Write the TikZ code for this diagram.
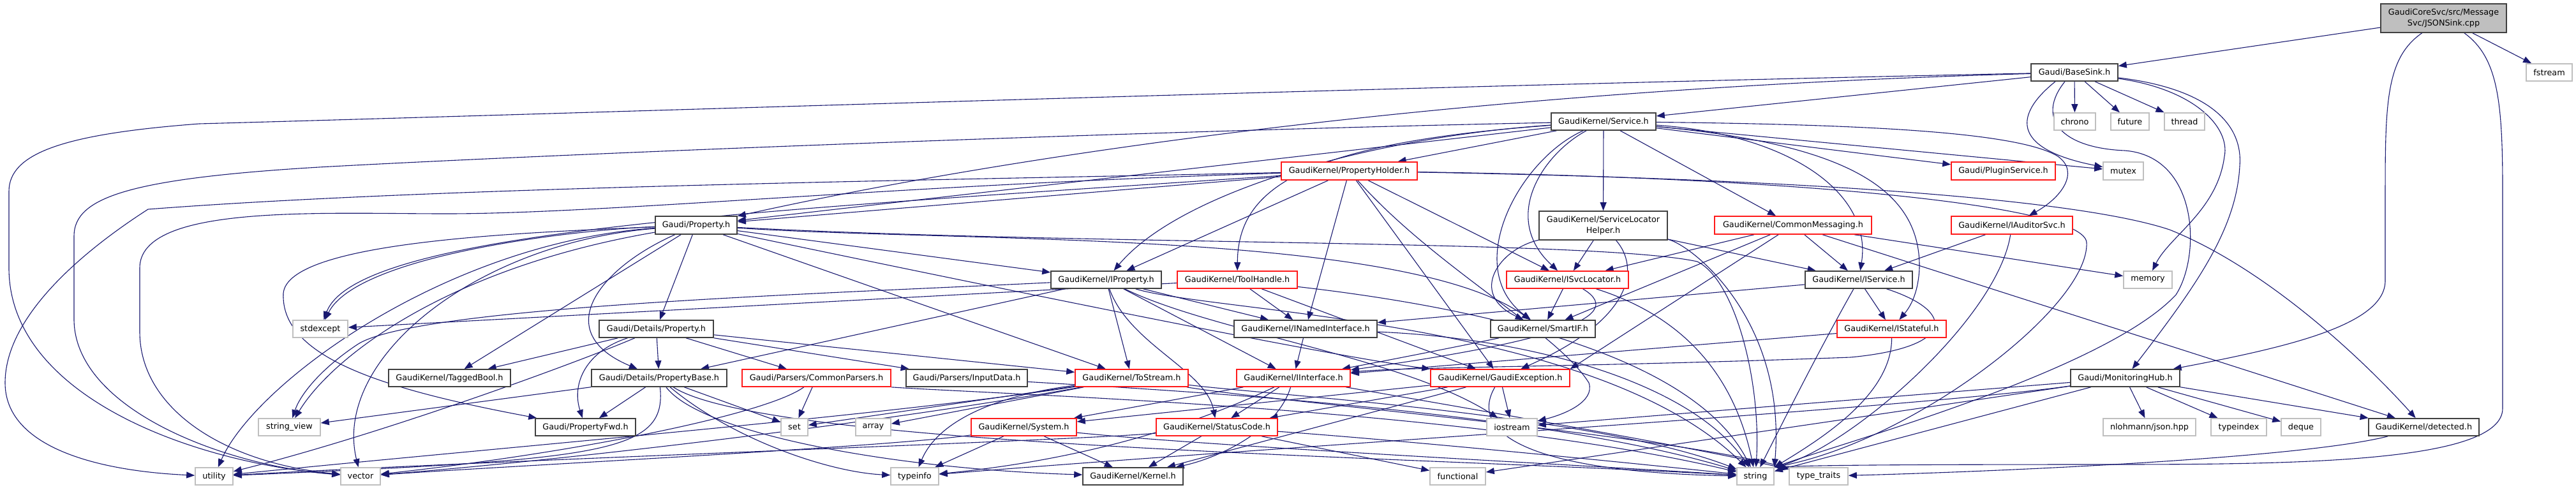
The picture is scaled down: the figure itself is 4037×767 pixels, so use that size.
\documentclass[tikz,border=0pt]{standalone}
\usepackage{fontspec}
\setmainfont{DejaVu Sans}
\usetikzlibrary{arrows.meta,calc}
\pgfdeclarelayer{bg}
\pgfsetlayers{bg,main}
\definecolor{edgec}{HTML}{191970}
\definecolor{dkb}{HTML}{404040}
\definecolor{rdb}{HTML}{FF1A1A}
\definecolor{ltb}{HTML}{BFBFBF}
\definecolor{rootf}{HTML}{BFBFBF}
\newcommand\gn[6]{\node[#1,minimum width={#4*0.5pt},minimum height={#5*0.5pt}] (#2) at (#3) {#6};}
\begin{document}
\begin{tikzpicture}[x=0.5pt,y=-0.5pt,
  nb/.style={draw=dkb,line width=0.8pt,fill=white,rectangle,inner sep=0pt,font={\fontsize{6.4pt}{8.3pt}\selectfont},align=center},
  nr/.style={nb,draw=rdb},
  ng/.style={nb,draw=ltb},
  nroot/.style={nb,draw=dkb,fill=rootf},
  e/.style={draw=edgec,line width=0.55pt,-{Triangle[length=6.5pt,width=5pt]}}]
\useasboundingbox (0,0) rectangle (4037,767);
% nodes
\gn{nroot}{json}{3829.5,28.5}{197}{45}{GaudiCoreSvc/src/Message\\Svc/JSONSink.cpp}
\gn{nb}{basesink}{3251,113.5}{136}{27}{Gaudi/BaseSink.h}
\gn{ng}{fstream}{3995,113.5}{72}{27}{fstream}
\gn{nb}{service}{2513,190.5}{164}{27}{GaudiKernel/Service.h}
\gn{ng}{chrono}{3251.5,190.5}{65}{27}{chrono}
\gn{ng}{future}{3338,190.5}{60}{27}{future}
\gn{ng}{thread}{3423.5,190.5}{63}{27}{thread}
\gn{nr}{propholder}{2114.5,268}{213}{28}{GaudiKernel/PropertyHolder.h}
\gn{nr}{pluginsvc}{3139.5,268}{163}{28}{Gaudi/PluginService.h}
\gn{ng}{mutex}{3327.5,268}{63}{28}{mutex}
\gn{nb}{property}{1091,353}{128}{28}{Gaudi/Property.h}
\gn{nb}{slh}{2512.5,353.5}{201}{45}{GaudiKernel/ServiceLocator\\Helper.h}
\gn{nr}{commsg}{2810,353}{246}{28}{GaudiKernel/CommonMessaging.h}
\gn{nr}{iauditor}{3153,353}{190}{28}{GaudiKernel/IAuditorSvc.h}
\gn{nb}{iproperty}{1733.5,438.5}{173}{27}{GaudiKernel/IProperty.h}
\gn{nr}{toolhandle}{1939,438.5}{188}{27}{GaudiKernel/ToolHandle.h}
\gn{nr}{isvcloc}{2456.5,438.5}{191}{27}{GaudiKernel/ISvcLocator.h}
\gn{nb}{iservice}{2913,438.5}{168}{27}{GaudiKernel/IService.h}
\gn{ng}{memory}{3366,438.5}{76}{27}{memory}
\gn{ng}{stdexcept}{502,515.5}{86}{27}{stdexcept}
\gn{nb}{detprop}{1028.5,515.5}{179}{27}{Gaudi/Details/Property.h}
\gn{nb}{inamed}{2046,515.5}{224}{27}{GaudiKernel/INamedInterface.h}
\gn{nb}{smartif}{2418,515.5}{164}{27}{GaudiKernel/SmartIF.h}
\gn{nr}{istateful}{2964.5,515.5}{171}{27}{GaudiKernel/IStateful.h}
\gn{nb}{taggedbool}{704.5,592.5}{191}{27}{GaudiKernel/TaggedBool.h}
\gn{nb}{propbase}{1033,592.5}{212}{27}{Gaudi/Details/PropertyBase.h}
\gn{nr}{commonparsers}{1279.5,592.5}{233}{27}{Gaudi/Parsers/CommonParsers.h}
\gn{nb}{inputdata}{1515,592.5}{190}{27}{Gaudi/Parsers/InputData.h}
\gn{nr}{tostream}{1773.5,592.5}{177}{27}{GaudiKernel/ToStream.h}
\gn{nr}{iinterface}{2027,592.5}{178}{27}{GaudiKernel/IInterface.h}
\gn{nr}{gaudiexc}{2351,592.5}{218}{27}{GaudiKernel/GaudiException.h}
\gn{nb}{monhub}{3330.5,592.5}{171}{27}{Gaudi/MonitoringHub.h}
\gn{ng}{stringview}{453.5,669.5}{97}{27}{string\_view}
\gn{nb}{propfwd}{917.5,669.5}{157}{27}{Gaudi/PropertyFwd.h}
\gn{ng}{set}{1245,669.5}{42}{27}{set}
\gn{ng}{array}{1368.5,669.5}{55}{27}{array}
\gn{nr}{system}{1604.5,669.5}{165}{27}{GaudiKernel/System.h}
\gn{nr}{statuscode}{1907,669.5}{190}{27}{GaudiKernel/StatusCode.h}
\gn{ng}{iostream}{2369.5,669.5}{79}{27}{iostream}
\gn{ng}{nlohmann}{3368.5,669.5}{145}{27}{nlohmann/json.hpp}
\gn{ng}{typeindex}{3508.5,669.5}{87}{27}{typeindex}
\gn{ng}{deque}{3606,669.5}{62}{27}{deque}
\gn{nb}{detected}{3798.5,669.5}{173}{27}{GaudiKernel/detected.h}
\gn{ng}{utility}{335.5,746.5}{59}{27}{utility}
\gn{ng}{vector}{565,746.5}{62}{27}{vector}
\gn{ng}{typeinfo}{1433.5,746.5}{75}{27}{typeinfo}
\gn{nb}{kernel}{1775.5,746.5}{157}{27}{GaudiKernel/Kernel.h}
\gn{ng}{functional}{2284.5,746.5}{87}{27}{functional}
\gn{ng}{string}{2751,746.5}{58}{27}{string}
\gn{ng}{typetraits}{2850,746.5}{92}{27}{type\_traits}
% edges
\begin{pgfonlayer}{bg}
% JSONSink
\draw[e] (json) -- (basesink);
\draw[e] (json) -- (fstream);
\draw[e] (json) .. controls (3740,90) and (3738,160) .. (3738,300) -- (3738,440) .. controls (3738,510) and (3580,545) .. (monhub);
\draw[e] (json) .. controls (3915,90) and (3922,160) .. (3922,300) -- (3922,640) .. controls (3922,725) and (3600,728) .. (3300,728) .. controls (3000,728) and (2850,729) .. (string.north east);
% BaseSink
\draw[e] (basesink) -- (service);
\draw[e] (basesink) .. controls (2300,140) and (1600,240) .. (property);
\draw[e] (basesink) .. controls (2200,135) and (900,178) .. (312,194) .. controls (100,210) and (14,240) .. (14,300) -- (14,420) .. controls (14,620) and (300,725) .. (vector);
\draw[e] (basesink) -- (chrono);
\draw[e] (basesink) -- (future);
\draw[e] (basesink) -- (thread);
\draw[e] ($(basesink.south)+(-30,0)$) .. controls (3150,185) and (3160,235) .. (mutex);
\draw[e] (basesink) .. controls (3440,140) and (3495,200) .. (3486,245) .. controls (3475,330) and (3400,370) .. (memory);
\draw[e] (basesink) .. controls (3470,140) and (3515,200) .. (3510,260) .. controls (3505,360) and (3440,450) .. (monhub);
\draw[e] ($(basesink.south)+(-15,0)$) .. controls (3190,185) and (3230,232) .. (3330,236) .. controls (3445,245) and (3450,400) .. (3410,462) .. controls (3300,580) and (2900,690) .. (string.north east);
% Service
\draw[e] (service) -- (property);
\draw[e] (service) .. controls (1800,205) and (900,240) .. (500,262) .. controls (200,280) and (116,310) .. (116,370) -- (116,500) .. controls (116,640) and (350,730) .. (vector);
\draw[e] (service) -- (propholder);
\draw[e] (service) -- (slh);
\draw[e] (service) -- (commsg);
\draw[e] (service) .. controls (2900,195) and (3160,205) .. (3225,245) .. controls (3260,270) and (3230,310) .. (iauditor);
\draw[e] (service) -- (pluginsvc);
\draw[e] (service) -- (mutex);
\draw[e] (service) .. controls (2150,215) and (1850,300) .. (iproperty);
\draw[e] (service) .. controls (2030,225) and (1940,300) .. (toolhandle);
\draw[e] (service) .. controls (2420,240) and (2350,340) .. (isvcloc);
\draw[e] (service) .. controls (2380,250) and (2290,420) .. (smartif);
\draw[e] (service) .. controls (2800,210) and (2935,300) .. (iservice);
\draw[e] (service) .. controls (2880,225) and (3010,290) .. (3008,420) .. controls (3006,465) and (2990,485) .. (istateful);
% PropertyHolder
\draw[e] (propholder) -- (property);
\draw[e] (propholder) .. controls (1500,282) and (700,292) .. (232,328) .. controls (120,400) and (8,500) .. (8,600) .. controls (8,700) and (150,738) .. (utility);
\draw[e] (propholder) .. controls (1400,290) and (950,335) .. (700,335) .. controls (500,335) and (219,320) .. (219,420) -- (219,520) .. controls (219,640) and (350,725) .. (vector);
\draw[e] (propholder) -- (iproperty);
\draw[e] (propholder) -- (inamed);
\draw[e] (propholder) -- (isvcloc);
\draw[e] (propholder) -- (gaudiexc);
\draw[e] (propholder) .. controls (2250,420) and (2440,520) .. (2490,600) .. controls (2500,630) and (2450,650) .. (iostream);
\draw[e] (propholder) .. controls (2800,280) and (3250,310) .. (3400,360) .. controls (3550,420) and (3700,560) .. (detected);
\draw[e] (propholder) .. controls (2800,278) and (3265,320) .. (3270,380) .. controls (3275,480) and (3000,690) .. (string.north east);
\draw[e] (propholder) .. controls (1200,330) and (560,360) .. (stdexcept);
% ServiceLocatorHelper
\draw[e] (slh) -- (isvcloc);
\draw[e] (slh) .. controls (2350,390) and (2300,460) .. (smartif);
\draw[e] (slh) -- (iservice);
\draw[e] (slh) .. controls (2570,420) and (2560,500) .. (gaudiexc);
\draw[e] (slh) .. controls (2650,383) and (2800,500) .. (string.north east);
% CommonMessaging
\draw[e] (commsg) -- (isvcloc);
\draw[e] (commsg) -- (smartif);
\draw[e] (commsg) -- (iservice);
\draw[e] (commsg) -- (gaudiexc.north east);
\draw[e] (commsg) -- (memory);
\draw[e] (commsg) -- (detected);
% IAuditorSvc
\draw[e] (iauditor) -- (iservice);
\draw[e] (iauditor) .. controls (3130,500) and (2900,700) .. (string.north east);
% Property.h
\draw[e] (property) -- (detprop);
\draw[e] (property) .. controls (940,420) and (860,520) .. (propbase);
\draw[e] (property) -- (taggedbool);
\draw[e] (property) -- (iproperty);
\draw[e] (property) -- (tostream);
\draw[e] (property) .. controls (1500,380) and (2200,360) .. (smartif);
\draw[e] (property) .. controls (1700,480) and (2100,560) .. (gaudiexc);
\draw[e] (property) .. controls (1700,385) and (2500,375) .. (2660,410) .. controls (2720,440) and (2760,600) .. (string);
\draw[e] (property) .. controls (900,360) and (560,400) .. (stdexcept);
\draw[e] (property) .. controls (700,420) and (520,560) .. (stringview);
\draw[e] (property) .. controls (700,380) and (400,600) .. (utility);
\draw[e] (property) .. controls (750,380) and (520,560) .. (vector);
\draw[e] (property) .. controls (800,365) and (450,380) .. (444,460) .. controls (440,560) and (600,610) .. (propfwd);
% IProperty
\draw[e] (iproperty) .. controls (1300,460) and (650,480) .. (560,540) .. controls (500,580) and (470,620) .. (stringview);
\draw[e] (iproperty) -- (propbase);
\draw[e] (iproperty) -- (tostream);
\draw[e] (iproperty) .. controls (1770,540) and (1890,580) .. (statuscode);
\draw[e] (iproperty) -- (iinterface);
\draw[e] (iproperty) -- (inamed);
\draw[e] (iproperty) .. controls (1900,490) and (2500,500) .. (string);
\draw[e] (iproperty) .. controls (1900,520) and (2200,560) .. (iostream);
% ToolHandle
\draw[e] (toolhandle) -- (inamed);
\draw[e] (toolhandle) -- (stdexcept);
\draw[e] (toolhandle) -- (gaudiexc);
\draw[e] (toolhandle) .. controls (2300,480) and (2650,550) .. (string);
% ISvcLocator, IService, IStateful, INamedInterface, SmartIF
\draw[e] (isvcloc) -- (smartif);
\draw[e] (isvcloc) .. controls (2560,500) and (2400,540) .. (iinterface);
\draw[e] (isvcloc) .. controls (2650,500) and (2720,600) .. (string);
\draw[e] (iservice) -- (inamed);
\draw[e] (iservice) -- (istateful);
\draw[e] (iservice) .. controls (3070,490) and (3060,545) .. (2900,560) .. controls (2500,575) and (2200,575) .. (iinterface);
\draw[e] (iservice) .. controls (2850,550) and (2800,650) .. (string);
\draw[e] (istateful) -- (iinterface);
\draw[e] (istateful) .. controls (2965,620) and (2850,690) .. (string.north east);
\draw[e] (inamed) -- (iinterface);
\draw[e] (inamed) .. controls (2400,530) and (2650,600) .. (string);
\draw[e] (smartif) .. controls (2300,540) and (2200,560) .. (iinterface);
% Details/Property.h
\draw[e] (detprop) -- (taggedbool);
\draw[e] (detprop) .. controls (920,550) and (895,600) .. (propfwd);
\draw[e] (detprop) .. controls (900,570) and (600,680) .. (utility);
\draw[e] (detprop) -- (propbase);
\draw[e] (detprop) -- (commonparsers);
\draw[e] (detprop) -- (inputdata);
\draw[e] (detprop) -- (tostream);
% PropertyBase
\draw[e] (propbase) -- (stringview);
\draw[e] (propbase) -- (propfwd);
\draw[e] (propbase) .. controls (1045,710) and (950,720) .. (utility);
\draw[e] (propbase) -- (set);
\draw[e] (propbase) .. controls (1100,680) and (1400,735) .. (kernel);
\draw[e] (propbase) .. controls (1200,700) and (2200,715) .. (string);
\draw[e] (propbase) .. controls (1150,690) and (1300,740) .. (typeinfo);
% CommonParsers, InputData
\draw[e] (commonparsers) -- (set);
\draw[e] (commonparsers) .. controls (1200,650) and (900,710) .. (vector);
\draw[e] (commonparsers.south east) .. controls (1600,620) and (2300,640) .. (string);
\draw[e] (inputdata) .. controls (1800,610) and (2400,640) .. (string);
% ToStream
\draw[e] (tostream) -- (array);
\draw[e] (tostream) -- (set);
\draw[e] (tostream) .. controls (1560,620) and (1470,660) .. (typeinfo);
\draw[e] (tostream) .. controls (2000,620) and (2500,650) .. (string);
\draw[e] (tostream) .. controls (2000,630) and (2600,680) .. (typetraits);
\draw[e] (tostream) .. controls (1400,650) and (800,700) .. (utility);
\draw[e] (tostream) .. controls (1400,660) and (900,720) .. (vector);
% IInterface
\draw[e] (iinterface) -- (statuscode);
\draw[e] (iinterface) -- (system);
\draw[e] (iinterface) .. controls (2000,680) and (1900,720) .. (kernel);
\draw[e] (iinterface) .. controls (1800,700) and (1600,730) .. (typeinfo);
\draw[e] (iinterface) .. controls (2300,640) and (2650,700) .. (typetraits);
% GaudiException
\draw[e] (gaudiexc) -- (statuscode);
\draw[e] (gaudiexc) -- (system);
\draw[e] (gaudiexc) -- (iostream);
\draw[e] (gaudiexc) .. controls (2300,680) and (2400,740) .. (string);
\draw[e] (gaudiexc) -- (kernel);
% MonitoringHub
\draw[e] (monhub) -- (iostream);
\draw[e] (monhub) .. controls (3000,640) and (2000,700) .. (typeinfo);
\draw[e] (monhub) -- (functional);
\draw[e] (monhub) -- (string);
\draw[e] (monhub) -- (nlohmann);
\draw[e] (monhub) -- (typeindex);
\draw[e] (monhub) -- (deque);
\draw[e] (monhub) -- (detected);
% StatusCode, System, detected
\draw[e] (statuscode) -- (kernel);
\draw[e] (statuscode) -- (functional);
\draw[e] (statuscode) .. controls (2200,690) and (2600,730) .. (string);
\draw[e] (statuscode) .. controls (1700,690) and (800,720) .. (utility);
\draw[e] (system) -- (kernel);
\draw[e] (system) -- (typeinfo);
\draw[e] (system) .. controls (1900,700) and (2500,730) .. (string);
\draw[e] (system) .. controls (1400,700) and (800,730) .. (vector);
\draw[e] (detected) .. controls (3600,720) and (3100,740) .. (typetraits);
\end{pgfonlayer}
\end{tikzpicture}
\end{document}
